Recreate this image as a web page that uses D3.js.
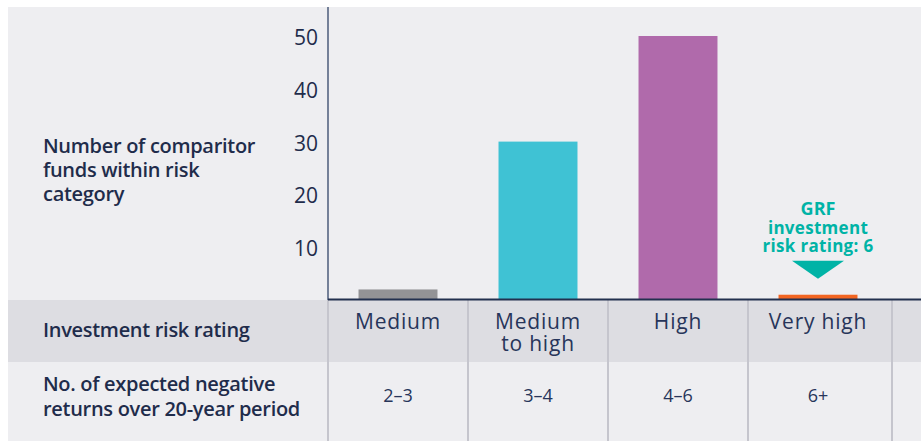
<!DOCTYPE html>
<html>
<head>
<meta charset="utf-8">
<script src="https://cdn.jsdelivr.net/npm/d3@7"></script>
<style>
	html, body { margin: 0; padding: 0; background: #fff; }
	svg { display: block; font-family: "Open Sans", Lato, sans-serif; }
</style>
</head>
<body>
<div id="chart"></div>
<script>
// data
let categories = ['Medium', 'Medium to high', 'High', 'Very high'];
let headerLines = [['Medium'], ['Medium', 'to high'], ['High'], ['Very high']];
let fundCounts = [2, 30, 50, 1];
let negativeReturns = ['2–3', '3–4', '4–6', '6+'];
let barColors = ['#939396', '#3fc2d4', '#b06aab', '#f26522'];
let yTicks = [10, 20, 30, 40, 50];
let yLabel = ['Number of comparitor', 'funds within risk', 'category'];
let rowLabel1 = 'Investment risk rating';
let rowLabel2 = ['No. of expected negative', 'returns over 20-year period'];
let callout = ['GRF', 'investment', 'risk rating: 6'];
let calloutIndex = 3;

let width = 921, height = 441;
let navy = '#1f2c4b';
let teal = '#00b3a6';

let svg = d3.select('#chart').append('svg')
	.attr('width', width)
	.attr('height', height);

// backgrounds
let panelLeft = 8, panelTop = 7, baseY = 300, rowSplit = 362;
svg.append('rect').attr('x', panelLeft).attr('y', panelTop).attr('width', width - panelLeft).attr('height', baseY - panelTop).attr('fill', '#eeeef1');
svg.append('rect').attr('x', panelLeft).attr('y', baseY).attr('width', width - panelLeft).attr('height', rowSplit - baseY).attr('fill', '#dddde2');
svg.append('rect').attr('x', panelLeft).attr('y', rowSplit).attr('width', width - panelLeft).attr('height', height - rowSplit).attr('fill', '#eeeef1');

let x = d3.scaleBand()
	.domain(categories)
	.range([328, 888])
	.paddingInner(0.436)
	.paddingOuter(0.218);

let y = d3.scaleLinear()
	.domain([0, 50])
	.range([baseY, 36]);

// table column separators
let seps = categories.map(c => x(c) - x.step() * x.paddingInner() / 2);
seps.push(x.range()[1] + 4);
svg.append('g').selectAll('line')
	.data(seps)
	.join('line')
	.attr('x1', d => d).attr('x2', d => d)
	.attr('y1', baseY).attr('y2', height)
	.attr('stroke', '#c5c5cd')
	.attr('stroke-width', 2);

// bars
svg.append('g').selectAll('rect')
	.data(fundCounts)
	.join('rect')
	.attr('x', (d, i) => x(categories[i]))
	.attr('width', x.bandwidth())
	.attr('y', d => y(d))
	.attr('height', d => y(0) - y(d))
	.attr('fill', (d, i) => barColors[i]);

// y axis
let yAxis = d3.axisLeft(y).tickValues(yTicks).tickSize(0).tickPadding(10);
let ga = svg.append('g').attr('transform', 'translate(328,0)').call(yAxis);
ga.select('.domain').remove();
ga.selectAll('text')
	.attr('font-size', 21)
	.attr('fill', navy)
	.attr('font-family', '"Open Sans", sans-serif')
	.attr('dy', '0.4em');

svg.append('line')
	.attr('x1', 328).attr('x2', 328)
	.attr('y1', panelTop).attr('y2', baseY)
	.attr('stroke', '#566482').attr('stroke-width', 1.6);

svg.append('line')
	.attr('x1', 328).attr('x2', width)
	.attr('y1', baseY - 0.5).attr('y2', baseY - 0.5)
	.attr('stroke', '#22304f').attr('stroke-width', 2);

// text helper
function multiline(lines, xPos, yPos, lh, opts) {
	let t = svg.append('text')
		.attr('x', xPos)
		.attr('y', yPos)
		.attr('fill', opts.fill || navy)
		.attr('font-size', opts.size)
		.attr('font-weight', opts.weight || 400)
		.attr('text-anchor', opts.anchor || 'start');
	if (opts.spacing) t.attr('letter-spacing', opts.spacing);
	lines.forEach((l, i) => {
		t.append('tspan').attr('x', xPos).attr('dy', i ? lh : 0).text(l);
	});
	return t;
}

multiline(yLabel, 43, 153, 24, {size: 20, weight: 600, spacing: -0.3});
multiline([rowLabel1], 43, 337, 23, {size: 20, weight: 600, spacing: -0.3});
multiline(rowLabel2, 43, 391, 25, {size: 20, weight: 600, spacing: -0.3});

// header row
headerLines.forEach((lines, i) => {
	let cx = x(categories[i]) + x.bandwidth() / 2;
	multiline(lines, cx, 329, 22, {size: 21, anchor: 'middle', fill: '#27355a', spacing: 0.8});
});

// values row
negativeReturns.forEach((v, i) => {
	let cx = x(categories[i]) + x.bandwidth() / 2;
	multiline([v], cx, 402, 20, {size: 18, anchor: 'middle', fill: '#27355a'});
});

// callout
let cx = x(categories[calloutIndex]) + x.bandwidth() / 2;
callout.forEach((l, i) => {
	multiline([l], cx, 215 + i * 18.5, 18.5, {size: i ? 17 : 18, weight: 700, anchor: 'middle', fill: teal, spacing: i ? 0.3 : 0});
});
let triTop = y(fundCounts[calloutIndex]) - 34;
svg.append('path')
	.attr('d', d3.line()([[cx - 26, triTop], [cx + 26, triTop], [cx, triTop + 18]]) + 'Z')
	.attr('fill', teal);
</script>
</body>
</html>
